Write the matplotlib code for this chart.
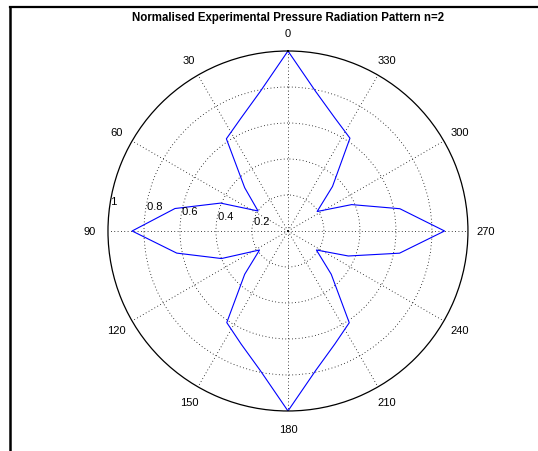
import matplotlib
matplotlib.use("Agg")
import matplotlib.pyplot as plt
import numpy as np
from matplotlib.lines import Line2D

plt.rcParams['font.family'] = ['Liberation Sans', 'DejaVu Sans']

# measurement angles (deg) and normalised pressure
angles_deg = [0, 11.25, 22.5, 33.75, 45, 56.25, 67.5, 78.75,
              90, 101.25, 112.5, 123.75, 135, 146.25, 157.5, 168.75,
              180, 191.25, 202.5, 213.75, 225, 236.25, 247.5, 258.75,
              270, 281.25, 292.5, 303.75, 315, 326.25, 337.5, 348.75]
pressure = [1.0, 0.79, 0.68, 0.616, 0.34, 0.20, 0.405, 0.64,
            0.866, 0.63, 0.40, 0.19, 0.34, 0.612, 0.68, 0.79,
            1.0, 0.79, 0.68, 0.613, 0.34, 0.19, 0.363, 0.632,
            0.87, 0.634, 0.383, 0.195, 0.35, 0.62, 0.68, 0.79]

spoke_angles = [0, 30, 60, 90, 120, 150, 180, 210, 240, 270, 300, 330]
ring_values = [0.2, 0.4, 0.6, 0.8, 1.0]
title = "Normalised Experimental Pressure Radiation Pattern n=2"

fig = plt.figure(figsize=(5.38, 4.52), dpi=100)
ax = fig.add_axes([0.2007, 0.0885, 0.6691, 0.7965], projection='polar')
ax.set_theta_zero_location('N')
ax.set_theta_direction(1)
ax.set_ylim(0, 1)

th = np.deg2rad(angles_deg + [angles_deg[0]])
r = pressure + [pressure[0]]
ax.plot(th, r, color='#0000ff', lw=0.8)

# grid like matlab polar
ax.set_xticks(np.deg2rad(spoke_angles))
ax.set_xticklabels([])
ax.set_yticks(ring_values[:-1])
ax.set_yticklabels([])
ax.grid(True, linestyle=(0, (1, 3)), color='k', linewidth=0.6)
ax.spines['polar'].set_color('k')
ax.spines['polar'].set_linewidth(0.9)
ax.tick_params(length=0)

for a in spoke_angles:
    ax.text(np.deg2rad(a), 1.1, str(a), ha='center', va='center', fontsize=8)

for v in ring_values:
    ax.text(np.deg2rad(82), v + 0.01, ' ' + f"{v:g}", ha='left', va='bottom', fontsize=8)

fig.text(0.5353, 1 - 18 / 452, title, ha='center', va='center',
         fontsize=8.3, fontweight='bold')

# frame edges of the screenshot
fig.add_artist(Line2D([9.5 / 538, 1], [1 - 8 / 452, 1 - 8 / 452], color='k', lw=1.6,
                      transform=fig.transFigure))
fig.add_artist(Line2D([9.8 / 538, 9.8 / 538], [0, 1 - 8 / 452], color='k', lw=1.8,
                      transform=fig.transFigure))

fig.savefig('out.png', dpi=100)
